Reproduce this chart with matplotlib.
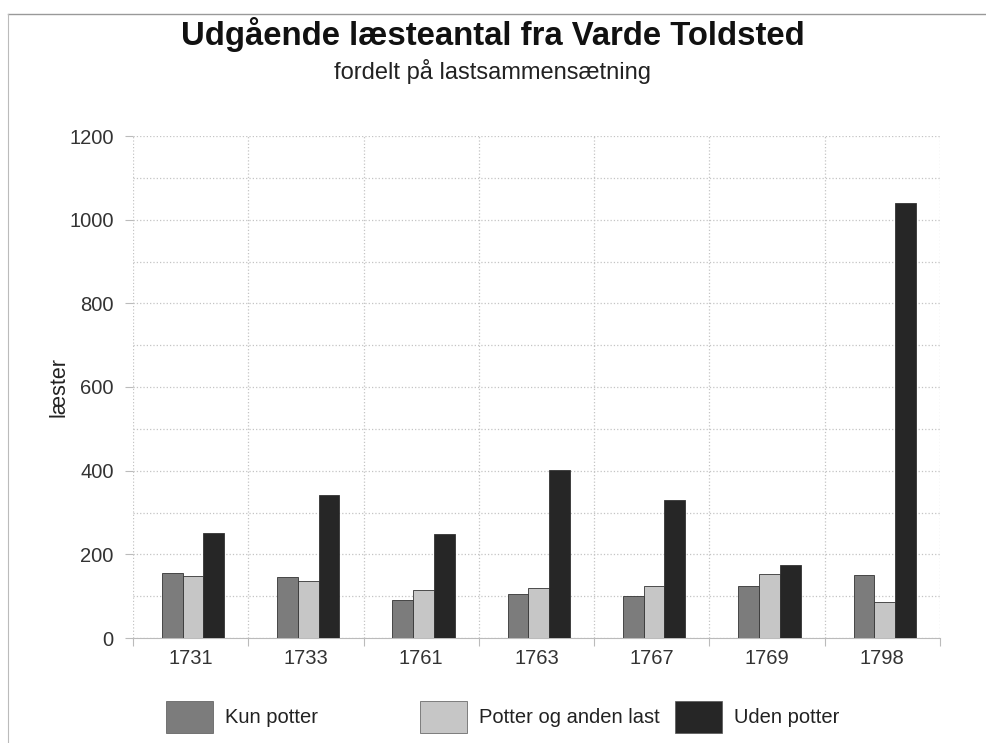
import matplotlib
matplotlib.use("Agg")
import matplotlib.pyplot as plt
import numpy as np
from matplotlib.patches import Patch
from matplotlib.lines import Line2D

plt.rcParams['font.family'] = ['Liberation Sans', 'DejaVu Sans']

years = ['1731', '1733', '1761', '1763', '1767', '1769', '1798']
kun_potter = [156, 146, 92, 104, 100, 124, 150]
potter_og_anden_last = [148, 137, 115, 119, 124, 152, 85]
uden_potter = [252, 343, 249, 402, 330, 175, 1040]
series_names = ['Kun potter', 'Potter og anden last', 'Uden potter']
colors = ['#7c7c7c', '#c6c6c6', '#262626']

fig = plt.figure(figsize=(9.86, 7.43), dpi=100)
ax = fig.add_axes([133/986, 1 - 638/743, (940-133)/986, (638-136)/743])

x = np.arange(len(years)) + 0.5
w = 0.18
for i, (vals, c) in enumerate(zip([kun_potter, potter_og_anden_last, uden_potter], colors)):
    ax.bar(x + (i - 1) * w + 0.02, vals, width=w, color=c, edgecolor='#333333', linewidth=0.6, zorder=3)

ax.set_xlim(0, len(years))
ax.set_ylim(0, 1200)
ax.set_xticks(np.arange(len(years) + 1))
ax.set_xticklabels([])
ax.set_xticks(x, minor=True)
ax.set_xticklabels(years, minor=True)
ax.set_yticks(np.arange(0, 1201, 200))
ax.set_yticks(np.arange(100, 1200, 200), minor=True)
ax.tick_params(axis='x', which='minor', length=0, labelsize=14.5, labelcolor='#333333', pad=8)
ax.tick_params(axis='x', which='major', length=6, color='#bbbbbb')
ax.tick_params(axis='y', which='major', length=6, color='#bbbbbb', labelsize=14.5, labelcolor='#333333', pad=8)
ax.tick_params(axis='y', which='minor', length=0)
ax.grid(True, which='major', axis='both', color='#c4c4c4', linewidth=0.9, linestyle=':', zorder=0)
ax.grid(True, which='minor', axis='y', color='#c4c4c4', linewidth=0.9, linestyle=':', zorder=0)
for s in ['top', 'right', 'left']:
    ax.spines[s].set_visible(False)
ax.spines['bottom'].set_color('#bbbbbb')
ax.set_ylabel('læster', fontsize=15.5, color='#222222', labelpad=0)

fig.text(0.5, 1 - 34/743, 'Udgående læsteantal fra Varde Toldsted', ha='center', va='center',
         fontsize=23.7, fontweight='bold', color='#111111')
fig.text(0.5, 1 - 72/743, 'fordelt på lastsammensætning', ha='center', va='center',
         fontsize=17, color='#222222')

# page border lines
fig.add_artist(Line2D([8/986, 985/986], [1 - 14/743, 1 - 14/743], color='#999999', linewidth=1))
fig.add_artist(Line2D([8/986, 8/986], [1 - 14/743, 0], color='#bbbbbb', linewidth=0.8))

legend_x = [166, 420, 675]
for name, c, lx in zip(series_names, colors, legend_x):
    fig.legend(handles=[Patch(facecolor=c, edgecolor='#555555', linewidth=0.5)], labels=[name],
               loc='center left', bbox_to_anchor=(lx/986 - 0.018, 1 - 717/743), frameon=False,
               fontsize=14.5, handlelength=2.3, handleheight=2.0, handletextpad=0.6,
               labelcolor='#222222')

fig.savefig('out.png', dpi=100)
